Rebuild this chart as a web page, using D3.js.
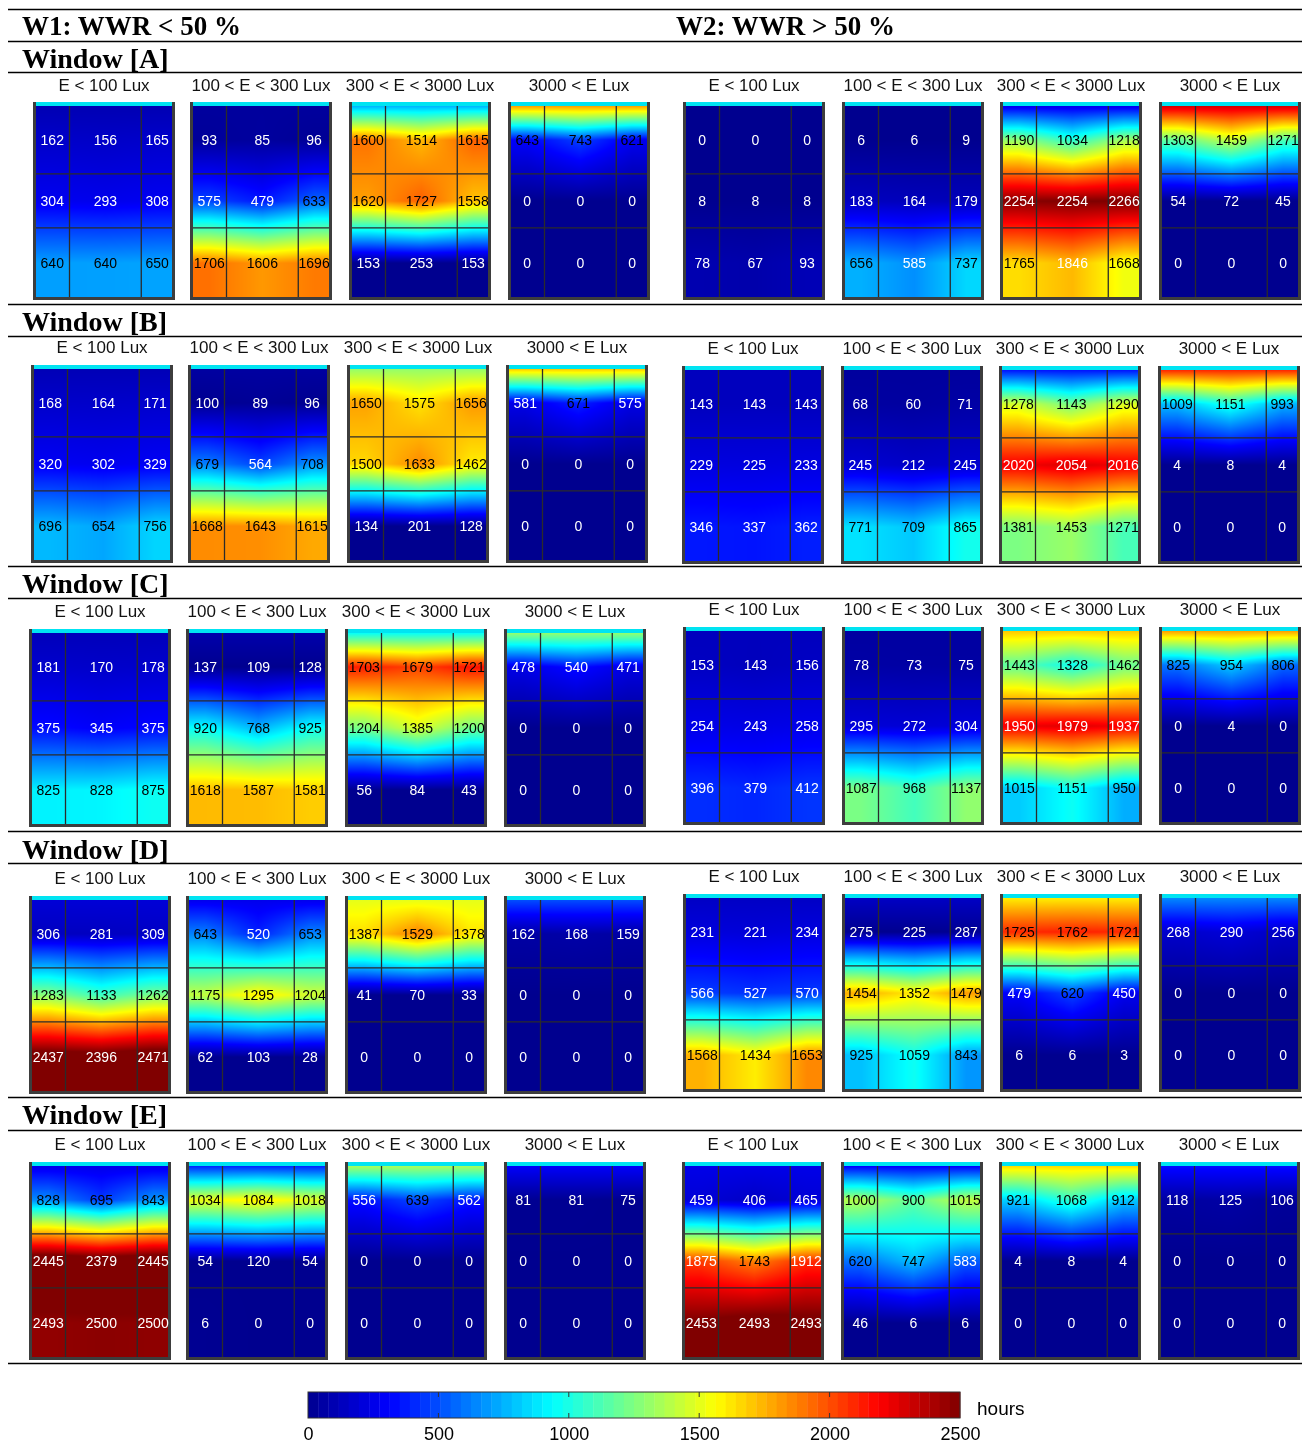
<!DOCTYPE html>
<html>
<head>
<meta charset="utf-8">
<script src="https://cdn.jsdelivr.net/npm/d3@7"></script>
<style>
  body { margin: 0; background: #fff; }
  #wrap { position: relative; width: 1302px; height: 1450px; }
  #wrap canvas, #wrap svg { position: absolute; left: 0; top: 0; }
</style>
</head>
<body>
<div id="wrap">
  <canvas id="field" width="1302" height="1450"></canvas>
  <svg id="chart" width="1302" height="1450"></svg>
</div>
<script>
// ---- labels ----
const windowNames = ["Window [A]", "Window [B]", "Window [C]", "Window [D]", "Window [E]"];
const groupNames = ["W1: WWR < 50 %", "W2: WWR > 50 %"];
const bandNames = ["E < 100 Lux", "100 < E < 300 Lux", "300 < E < 3000 Lux", "3000 < E Lux"];
const colorTicks = [0, 500, 1000, 1500, 2000, 2500];
const colorUnit = "hours";

// ---- annual hours per zone: 4 illuminance bands, each 3 rows (window side first) x 3 columns ----
const hoursA_W1 = [
  [162, 156, 165, 304, 293, 308, 640, 640, 650],
  [93, 85, 96, 575, 479, 633, 1706, 1606, 1696],
  [1600, 1514, 1615, 1620, 1727, 1558, 153, 253, 153],
  [643, 743, 621, 0, 0, 0, 0, 0, 0]
];
const hoursA_W2 = [
  [0, 0, 0, 8, 8, 8, 78, 67, 93],
  [6, 6, 9, 183, 164, 179, 656, 585, 737],
  [1190, 1034, 1218, 2254, 2254, 2266, 1765, 1846, 1668],
  [1303, 1459, 1271, 54, 72, 45, 0, 0, 0]
];
const hoursB_W1 = [
  [168, 164, 171, 320, 302, 329, 696, 654, 756],
  [100, 89, 96, 679, 564, 708, 1668, 1643, 1615],
  [1650, 1575, 1656, 1500, 1633, 1462, 134, 201, 128],
  [581, 671, 575, 0, 0, 0, 0, 0, 0]
];
const hoursB_W2 = [
  [143, 143, 143, 229, 225, 233, 346, 337, 362],
  [68, 60, 71, 245, 212, 245, 771, 709, 865],
  [1278, 1143, 1290, 2020, 2054, 2016, 1381, 1453, 1271],
  [1009, 1151, 993, 4, 8, 4, 0, 0, 0]
];
const hoursC_W1 = [
  [181, 170, 178, 375, 345, 375, 825, 828, 875],
  [137, 109, 128, 920, 768, 925, 1618, 1587, 1581],
  [1703, 1679, 1721, 1204, 1385, 1200, 56, 84, 43],
  [478, 540, 471, 0, 0, 0, 0, 0, 0]
];
const hoursC_W2 = [
  [153, 143, 156, 254, 243, 258, 396, 379, 412],
  [78, 73, 75, 295, 272, 304, 1087, 968, 1137],
  [1443, 1328, 1462, 1950, 1979, 1937, 1015, 1151, 950],
  [825, 954, 806, 0, 4, 0, 0, 0, 0]
];
const hoursD_W1 = [
  [306, 281, 309, 1283, 1133, 1262, 2437, 2396, 2471],
  [643, 520, 653, 1175, 1295, 1204, 62, 103, 28],
  [1387, 1529, 1378, 41, 70, 33, 0, 0, 0],
  [162, 168, 159, 0, 0, 0, 0, 0, 0]
];
const hoursD_W2 = [
  [231, 221, 234, 566, 527, 570, 1568, 1434, 1653],
  [275, 225, 287, 1454, 1352, 1479, 925, 1059, 843],
  [1725, 1762, 1721, 479, 620, 450, 6, 6, 3],
  [268, 290, 256, 0, 0, 0, 0, 0, 0]
];
const hoursE_W1 = [
  [828, 695, 843, 2445, 2379, 2445, 2493, 2500, 2500],
  [1034, 1084, 1018, 54, 120, 54, 6, 0, 0],
  [556, 639, 562, 0, 0, 0, 0, 0, 0],
  [81, 81, 75, 0, 0, 0, 0, 0, 0]
];
const hoursE_W2 = [
  [459, 406, 465, 1875, 1743, 1912, 2453, 2493, 2493],
  [1000, 900, 1015, 620, 747, 583, 46, 6, 6],
  [921, 1068, 912, 4, 8, 4, 0, 0, 0],
  [118, 125, 106, 0, 0, 0, 0, 0, 0]
];

// hours right at the window wall (top edge of each plan), per window and band
const wallW1 = [
  [100, 40, 750, 1800],
  [110, 50, 1300, 1700],
  [120, 80, 950, 1300],
  [200, 260, 1500, 500],
  [250, 400, 1350, 300]
];
const wallW2 = [
  [0, 0, 250, 2300],
  [130, 40, 350, 2100],
  [130, 50, 1700, 1800],
  [150, 150, 1600, 650],
  [250, 300, 1650, 350]
];

const hoursW1 = [hoursA_W1, hoursB_W1, hoursC_W1, hoursD_W1, hoursE_W1];
const hoursW2 = [hoursA_W2, hoursB_W2, hoursC_W2, hoursD_W2, hoursE_W2];

// ---- layout ----
const ruleX0 = 8, ruleX1 = 1302;
const sectionLayout = [
  { title: 58,  titleRule: 72,  head: [85, 85],   top: [102, 102],   dx: [0, 0],   bottomRule: 304 },
  { title: 321, titleRule: 336, head: [347, 348], top: [365, 366],   dx: [-2, -1], bottomRule: 566 },
  { title: 583, titleRule: 598, head: [611, 609], top: [629, 627],   dx: [-4, 0],  bottomRule: 831 },
  { title: 849, titleRule: 863, head: [878, 876], top: [896, 894],   dx: [-4, 0],  bottomRule: 1097 },
  { title: 1114, titleRule: 1130, head: [1144, 1144], top: [1162, 1162], dx: [-4, -1], bottomRule: 1363 }
];
const panelX = [[33, 190, 349, 508], [683, 842, 1000, 1159]];
const panelW = 142, panelH = 198, stripH = 4, frameW = 3;
const colEdges = [0, 0.25, 0.77, 1];
const rowEdges = [0, 0.354, 0.635, 1];
const colMid = [0.125, 0.51, 0.885];
const rowMid = [0.177, 0.495, 0.818];

// MATLAB-style jet colour map over 0..2500 h
const color = d3.scaleLinear()
  .domain([0, 0.125, 0.375, 0.625, 0.875, 1].map(t => t * 2500))
  .range(["#00008f", "#0000ff", "#00ffff", "#ffff00", "#ff0000", "#800000"])
  .interpolate(d3.interpolateRgb)
  .clamp(true);

const svg = d3.select("#chart");
const ctx = document.getElementById("field").getContext("2d");

// ---- horizontal rules and headings ----
const rules = [9, 41];
sectionLayout.forEach(s => { rules.push(s.titleRule, s.bottomRule); });
svg.append("g").selectAll("line").data(rules).join("line")
  .attr("x1", ruleX0).attr("x2", ruleX1)
  .attr("y1", d => d + 0.5).attr("y2", d => d + 0.5)
  .attr("stroke", "#000").attr("stroke-width", 1.6);

const serif = "'Liberation Serif', 'DejaVu Serif', serif";
const sans = "'Liberation Sans', Arial, sans-serif";

svg.append("g").selectAll("text").data(groupNames).join("text")
  .attr("x", (d, i) => i === 0 ? 22 : 676)
  .attr("y", 26)
  .attr("dy", "0.35em")
  .attr("font-family", serif).attr("font-weight", "bold").attr("font-size", 27)
  .text(d => d);

svg.append("g").selectAll("text").data(windowNames).join("text")
  .attr("x", 22)
  .attr("y", (d, i) => sectionLayout[i].title)
  .attr("dy", "0.35em")
  .attr("font-family", serif).attr("font-weight", "bold").attr("font-size", 28)
  .text(d => d);

// piecewise-linear 1-D interpolation through knots, flat beyond the ends
function interp1(pos, vals, p) {
  if (p <= pos[0]) return vals[0];
  const n = pos.length;
  if (p >= pos[n - 1]) return vals[n - 1];
  let k = 0;
  while (p > pos[k + 1]) k++;
  const t = (p - pos[k]) / (pos[k + 1] - pos[k]);
  return vals[k] + (vals[k + 1] - vals[k]) * t;
}
const vKnots = [0].concat(rowMid);
function cellOf(edges, p) { return p < edges[1] ? 0 : (p < edges[2] ? 1 : 2); }

// depth profile of one column: knot values chosen so each zone's mean equals its hours
function fitColumn(target, wall) {
  const knots = target.slice();
  const nv = 120;
  for (let it = 0; it < 14; it++) {
    const sum = [0, 0, 0], cnt = [0, 0, 0];
    for (let j = 0; j < nv; j++) {
      const v = (j + 0.5) / nv, r = cellOf(rowEdges, v);
      sum[r] += interp1(vKnots, [wall].concat(knots), v);
      cnt[r]++;
    }
    for (let r = 0; r < 3; r++) {
      knots[r] = Math.max(0, Math.min(3000, knots[r] + 0.8 * (target[r] - sum[r] / cnt[r])));
    }
  }
  return knots;
}

function drawPanel(g, x0, y0, cells, wall) {
  const fx0 = x0 + 2, fx1 = x0 + panelW - 2;
  const fy0 = y0 + stripH, fy1 = y0 + panelH - 2;
  const xs = d3.scaleLinear().domain([0, 1]).range([fx0, fx1]);
  const ys = d3.scaleLinear().domain([0, 1]).range([fy0, fy1]);
  const columns = [0, 1, 2].map(c => fitColumn([cells[c], cells[3 + c], cells[6 + c]], wall));

  // colour field on the canvas
  const w = Math.round(fx1 - fx0), h = Math.round(fy1 - fy0);
  const img = ctx.createImageData(w, h);
  for (let j = 0; j < h; j++) {
    const v = ys.invert(fy0 + j + 0.5);
    const colVals = columns.map(k => interp1(vKnots, [wall].concat(k), v));
    for (let i = 0; i < w; i++) {
      const u = xs.invert(fx0 + i + 0.5);
      const c = d3.rgb(color(interp1(colMid, colVals, u)));
      const k = (j * w + i) * 4;
      img.data[k] = c.r; img.data[k + 1] = c.g; img.data[k + 2] = c.b; img.data[k + 3] = 255;
    }
  }
  ctx.putImageData(img, Math.round(fx0), Math.round(fy0));

  // window strip along the top
  g.append("rect").attr("x", fx0).attr("y", y0).attr("width", fx1 - fx0).attr("height", stripH)
    .attr("fill", "#00e4f2");

  // zone grid
  g.append("g").selectAll("line").data(colEdges.slice(1, -1)).join("line")
    .attr("x1", d => xs(d)).attr("x2", d => xs(d)).attr("y1", fy0).attr("y2", fy1)
    .attr("stroke", "#2b2b2b").attr("stroke-width", 1.3);
  g.append("g").selectAll("line").data(rowEdges.slice(1, -1)).join("line")
    .attr("x1", fx0).attr("x2", fx1).attr("y1", d => ys(d)).attr("y2", d => ys(d))
    .attr("stroke", "#2b2b2b").attr("stroke-width", 1.3);

  // frame (open at the window side)
  g.append("path")
    .attr("d", `M${x0 + 1.5},${y0} V${y0 + panelH - 1.5} H${x0 + panelW - 1.5} V${y0}`)
    .attr("fill", "none").attr("stroke", "#3d3d3d").attr("stroke-width", frameW);

  // zone values
  const labels = cells.map((v, k) => ({ v, r: Math.floor(k / 3), c: k % 3 }));
  g.append("g").selectAll("text").data(labels).join("text")
    .attr("x", d => xs(colMid[d.c]))
    .attr("y", d => ys(rowMid[d.r]))
    .attr("dy", "0.35em")
    .attr("text-anchor", "middle")
    .attr("font-family", sans).attr("font-size", 14)
    .attr("fill", d => (d.v >= 600 && d.v < 1800) ? "#000" : "#fff")
    .text(d => d.v);
}

sectionLayout.forEach((s, si) => {
  [hoursW1, hoursW2].forEach((grp, gi) => {
    const wall = gi === 0 ? wallW1[si] : wallW2[si];
    grp[si].forEach((cells, bi) => {
      const x0 = panelX[gi][bi] + s.dx[gi];
      const y0 = s.top[gi];
      const g = svg.append("g");
      g.append("text")
        .attr("x", x0 + panelW / 2).attr("y", s.head[gi]).attr("dy", "0.35em")
        .attr("text-anchor", "middle")
        .attr("font-family", sans).attr("font-size", 17).attr("fill", "#111")
        .text(bandNames[bi]);
      drawPanel(g, x0, y0, cells, wall[bi]);
    });
  });
});

// ---- colour bar ----
const cb = { x0: 308, x1: 960, y0: 1392, h: 26 };
const cx = d3.scaleLinear().domain([0, 2500]).range([cb.x0, cb.x1]);
const nLevels = 64;
const levels = d3.range(nLevels).map(i => ({ a: i * 2500 / nLevels, b: (i + 1) * 2500 / nLevels }));
const bar = svg.append("g");
bar.selectAll("rect.lvl").data(levels).join("rect").attr("class", "lvl")
  .attr("x", d => cx(d.a)).attr("y", cb.y0)
  .attr("width", d => cx(d.b) - cx(d.a) + 0.4).attr("height", cb.h)
  .attr("fill", d => color((d.a + d.b) / 2));
bar.append("rect").attr("x", cb.x0).attr("y", cb.y0).attr("width", cb.x1 - cb.x0).attr("height", cb.h)
  .attr("fill", "none").attr("stroke", "#333").attr("stroke-width", 1);
const inner = colorTicks.slice(1, -1);
bar.selectAll("line.tt").data(inner).join("line").attr("class", "tt")
  .attr("x1", d => cx(d)).attr("x2", d => cx(d)).attr("y1", cb.y0).attr("y2", cb.y0 + 5)
  .attr("stroke", "#333");
bar.selectAll("line.tb").data(inner).join("line").attr("class", "tb")
  .attr("x1", d => cx(d)).attr("x2", d => cx(d)).attr("y1", cb.y0 + cb.h - 5).attr("y2", cb.y0 + cb.h)
  .attr("stroke", "#333");
const axis = svg.append("g").attr("transform", `translate(0,${cb.y0 + cb.h})`)
  .call(d3.axisBottom(cx).tickValues(colorTicks).tickSize(0).tickPadding(9).tickFormat(d3.format("d")));
axis.select(".domain").remove();
axis.selectAll("text").attr("font-family", sans).attr("font-size", 18).attr("fill", "#000");
svg.append("text").attr("x", 977).attr("y", cb.y0 + 16).attr("dy", "0.35em")
  .attr("font-family", sans).attr("font-size", 19).attr("fill", "#000").text(colorUnit);
</script>
</body>
</html>
